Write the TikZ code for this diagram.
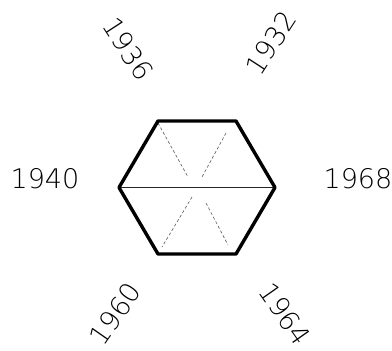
\documentclass[tikz,border=0pt]{standalone}
\usepackage{fontspec}
\newfontfamily\labfont{DejaVu Sans ExtraLight}
\begin{document}
\begin{tikzpicture}[x=1pt,y=-1pt,
  yearlab/.style={font=\labfont\fontsize{27}{27}\selectfont, inner sep=0pt, anchor=center},
  hexline/.style={line width=3.4pt, line join=round, black},
  midline/.style={line width=1.1pt, black!85},
  diagline/.style={line width=0.6pt, black!65, dash pattern=on 3pt off 2.2pt}]
\useasboundingbox (0,0) rectangle (392,351);
\coordinate (c) at (197,187.5);
\coordinate (L) at (119,187.5);
\coordinate (R) at (275,187.5);
\coordinate (TL) at (158,121);
\coordinate (TR) at (236,121);
\coordinate (BL) at (158,254);
\coordinate (BR) at (236,254);
% diagonals
\coordinate (d1a) at (158,123);
\coordinate (d1b) at (188,177);
\coordinate (d1c) at (206,203);
\coordinate (d1d) at (228,245);
\coordinate (d2a) at (226,133);
\coordinate (d2b) at (202,177);
\coordinate (d2c) at (192,197);
\coordinate (d2d) at (162,247);
\draw[diagline] (d1a) -- (d1b);
\draw[diagline] (d1c) -- (d1d);
\draw[diagline] (d2a) -- (d2b);
\draw[diagline] (d2c) -- (d2d);
\draw[midline] (L) -- (R);
\draw[hexline] (L) -- (TL) -- (TR) -- (R) -- (BR) -- (BL) -- cycle;
% labels
\node[yearlab] (y1940) at (45,178.5) {1940};
\node[yearlab] (y1968) at (358,178.5) {1968};
\node[yearlab, rotate=-57] (y1936) at (128,49) {1936};
\node[yearlab, rotate=57] (y1932) at (271,43) {1932};
\node[yearlab, rotate=55] (y1960) at (115,314) {1960};
\node[yearlab, rotate=-55] (y1964) at (285,314) {1964};
\end{tikzpicture}
\end{document}
